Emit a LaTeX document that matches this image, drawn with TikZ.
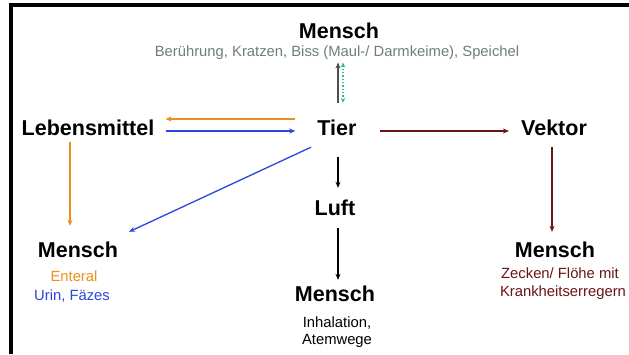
\documentclass[tikz,border=0pt]{standalone}
\usepackage{fontspec}
\setmainfont{Liberation Sans}
\usetikzlibrary{arrows.meta}
\definecolor{subgray}{HTML}{6E7F7A}
\definecolor{orng}{HTML}{EE8E1C}
\definecolor{blu}{HTML}{2A45E0}
\definecolor{dred}{HTML}{6A1414}
\definecolor{grn}{HTML}{2DBE8C}
\definecolor{darkg}{HTML}{505050}
\begin{document}
\begin{tikzpicture}[x=1pt,y=-1pt,
  big/.style={font=\fontsize{21.5}{24}\selectfont\bfseries, inner sep=0pt, text height=16pt, text depth=0pt},
  small/.style={font=\fontsize{14.8}{17}\selectfont, inner sep=0pt, text height=10.5pt, text depth=0pt},
  arr/.style={line width=1.3pt, -{Stealth[length=6pt,width=5pt]}},
]
\useasboundingbox (0,0) rectangle (629,354);
\fill[white] (0,0) rectangle (629,354);
\draw[line width=4pt] (9,5) -- (629,5);
\draw[line width=4pt] (11,3) -- (11,354);

\node[big] (mtop) at (339,30) {Mensch};
\node[small, text=subgray] (sub) at (337,51) {Berührung, Kratzen, Biss (Maul-/ Darmkeime), Speichel};
\node[big] (tier) at (337,127) {Tier};
\node[big] (leb) at (88,127) {Lebensmittel};
\node[big] (vek) at (554,127) {Vektor};
\node[big] (luft) at (335,207) {Luft};
\node[big] (mleft) at (78,249) {Mensch};
\node[small, text=orng] (enteral) at (74,276) {Enteral};
\node[small, text=blu] (urin) at (72,295) {Urin, Fäzes};
\node[big] (mright) at (555,249) {Mensch};
\node[small, text=dred] (zecken) at (560,273) {Zecken/ Flöhe mit};
\node[small, text=dred] (krank) at (563,291) {Krankheitserregern};
\node[big] (mmid) at (335,293) {Mensch};
\node[small] (inhal) at (337,322) {Inhalation,};
\node[small] (atem) at (337,339) {Atemwege};

% Tier <-> Mensch (top)
\draw[arr, darkg] ([xshift=1pt,yshift=16pt]tier.north) -- ([xshift=1pt,yshift=-6pt]sub.south);
\draw[line width=1.3pt, grn, dotted, {Stealth[length=5pt,width=4.5pt]}-{Stealth[length=5pt,width=4.5pt]}]
  ([xshift=6pt,yshift=-6pt]sub.south) -- ([xshift=6pt,yshift=16pt]tier.north);

% Tier <-> Lebensmittel
\draw[arr, orng] ([xshift=-22pt,yshift=8pt]tier.west) -- ([xshift=11pt,yshift=8pt]leb.east);
\draw[arr, blu] ([xshift=11pt,yshift=-4pt]leb.east) -- ([xshift=-22pt,yshift=-4pt]tier.west);

% Lebensmittel -> Mensch left
\draw[arr, orng] ([xshift=-18pt,yshift=-7pt]leb.south) -- ([xshift=-8pt,yshift=15pt]mleft.north);
% Tier -> Mensch left
\draw[arr, blu] ([xshift=-26pt,yshift=-12pt]tier.south) -- ([xshift=51pt,yshift=9pt]mleft.north);

% Tier -> Vektor -> Mensch
\draw[arr, dred] ([xshift=23pt,yshift=-4pt]tier.east) -- ([xshift=-12pt,yshift=-4pt]vek.west);
\draw[arr, dred] ([xshift=-2pt,yshift=-12pt]vek.south) -- ([xshift=-3pt,yshift=9pt]mright.north);

% Tier -> Luft -> Mensch
\draw[arr, black] ([xshift=1pt,yshift=-22pt]tier.south) -- ([xshift=3pt,yshift=11pt]luft.north);
\draw[arr, black] ([xshift=3pt,yshift=-13pt]luft.south) -- ([xshift=3pt,yshift=5pt]mmid.north);
\end{tikzpicture}
\end{document}
